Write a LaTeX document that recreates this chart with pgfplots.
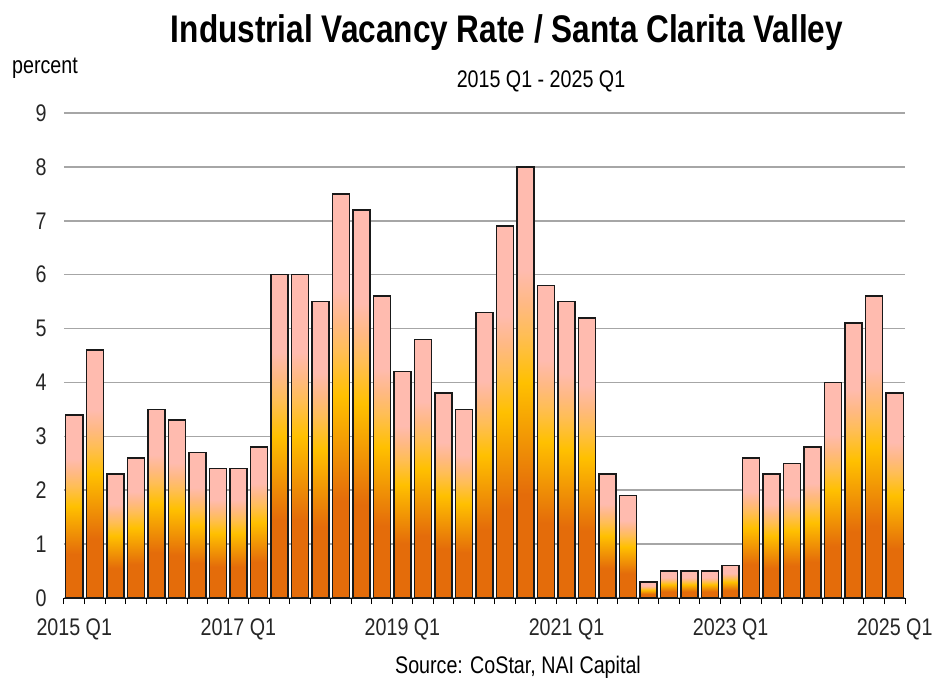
\documentclass[border=0pt]{standalone}
\usepackage{fontspec}
\setmainfont{Liberation Sans}[FakeStretch=0.82]
\usepackage{pgfplots}
\pgfplotsset{compat=1.18}
\definecolor{dkor}{RGB}{228,108,10}
\definecolor{goldc}{RGB}{255,192,0}
\definecolor{ltor}{RGB}{255,190,85}
\definecolor{peach}{RGB}{255,185,130}
\definecolor{pinkc}{RGB}{255,187,175}
\definecolor{gridc}{RGB}{166,166,166}
\pgfdeclareverticalshading{barshade}{100bp}{color(0bp)=(dkor); color(25bp)=(dkor); color(37bp)=(dkor); color(50bp)=(goldc); color(55.5bp)=(ltor); color(59bp)=(peach); color(63bp)=(pinkc); color(75bp)=(pinkc); color(100bp)=(pinkc)}
\pgfplotsset{B/.style={ybar, bar width=0.83, bar shift=0pt, draw=black!90, line width=1.5pt, shade, shading=barshade}}
\begin{document}
\begin{tikzpicture}[x=1pt,y=1pt]
\path[use as bounding box] (0,0) rectangle (932,681);
\begin{axis}[
  at={(64pt,83pt)}, anchor=south west,
  scale only axis, width=841pt, height=485pt,
  xmin=-0.5, xmax=40.5, ymin=0, ymax=9,
  enlargelimits=false,
  axis lines*=left,
  y axis line style={draw=none},
  x axis line style={black, line width=1pt},
  ytick={0,1,...,9},
  ytick style={draw=none},
  ymajorgrids,
  grid style={gridc, line width=1.6pt},
  xtick={0,8,16,24,32,40},
  xticklabels={2015 Q1,2017 Q1,2019 Q1,2021 Q1,2023 Q1,2025 Q1},
  every major x tick/.append style={draw=none},
  minor xtick={-0.5,0.5,...,40.5},
  every minor x tick/.append style={black, line width=1pt},
  major tick length=0pt,
  minor tick length=6pt,
  tick align=outside,
  /pgf/number format/assume math mode=true,
  tick label style={font=\fontsize{24}{28}\selectfont, text=black!85},
  xticklabel style={anchor=base, yshift=-37pt},
  yticklabel style={anchor=east, xshift=-14pt},
]
\addplot[B] coordinates {(0,3.4)};
\addplot[B] coordinates {(1,4.6)};
\addplot[B] coordinates {(2,2.3)};
\addplot[B] coordinates {(3,2.6)};
\addplot[B] coordinates {(4,3.5)};
\addplot[B] coordinates {(5,3.3)};
\addplot[B] coordinates {(6,2.7)};
\addplot[B] coordinates {(7,2.4)};
\addplot[B] coordinates {(8,2.4)};
\addplot[B] coordinates {(9,2.8)};
\addplot[B] coordinates {(10,6.0)};
\addplot[B] coordinates {(11,6.0)};
\addplot[B] coordinates {(12,5.5)};
\addplot[B] coordinates {(13,7.5)};
\addplot[B] coordinates {(14,7.2)};
\addplot[B] coordinates {(15,5.6)};
\addplot[B] coordinates {(16,4.2)};
\addplot[B] coordinates {(17,4.8)};
\addplot[B] coordinates {(18,3.8)};
\addplot[B] coordinates {(19,3.5)};
\addplot[B] coordinates {(20,5.3)};
\addplot[B] coordinates {(21,6.9)};
\addplot[B] coordinates {(22,8.0)};
\addplot[B] coordinates {(23,5.8)};
\addplot[B] coordinates {(24,5.5)};
\addplot[B] coordinates {(25,5.2)};
\addplot[B] coordinates {(26,2.3)};
\addplot[B] coordinates {(27,1.9)};
\addplot[B] coordinates {(28,0.3)};
\addplot[B] coordinates {(29,0.5)};
\addplot[B] coordinates {(30,0.5)};
\addplot[B] coordinates {(31,0.5)};
\addplot[B] coordinates {(32,0.6)};
\addplot[B] coordinates {(33,2.6)};
\addplot[B] coordinates {(34,2.3)};
\addplot[B] coordinates {(35,2.5)};
\addplot[B] coordinates {(36,2.8)};
\addplot[B] coordinates {(37,4.0)};
\addplot[B] coordinates {(38,5.1)};
\addplot[B] coordinates {(39,5.6)};
\addplot[B] coordinates {(40,3.8)};
\end{axis}
\node[anchor=base, inner sep=0pt] at (507,638) {\fontsize{38.5}{44}\selectfont\bfseries Industrial Vacancy Rate / Santa Clarita Valley};
\node[anchor=base west, inner sep=0pt] at (12,607) {\fontsize{24}{28}\selectfont percent};
\node[anchor=base, inner sep=0pt] at (541,593) {\fontsize{24}{28}\selectfont 2015 Q1 - 2025 Q1};
\node[anchor=base, inner sep=0pt] at (518,8) {\fontsize{24}{28}\selectfont Source: CoStar, NAI Capital};
\end{tikzpicture}
\end{document}
